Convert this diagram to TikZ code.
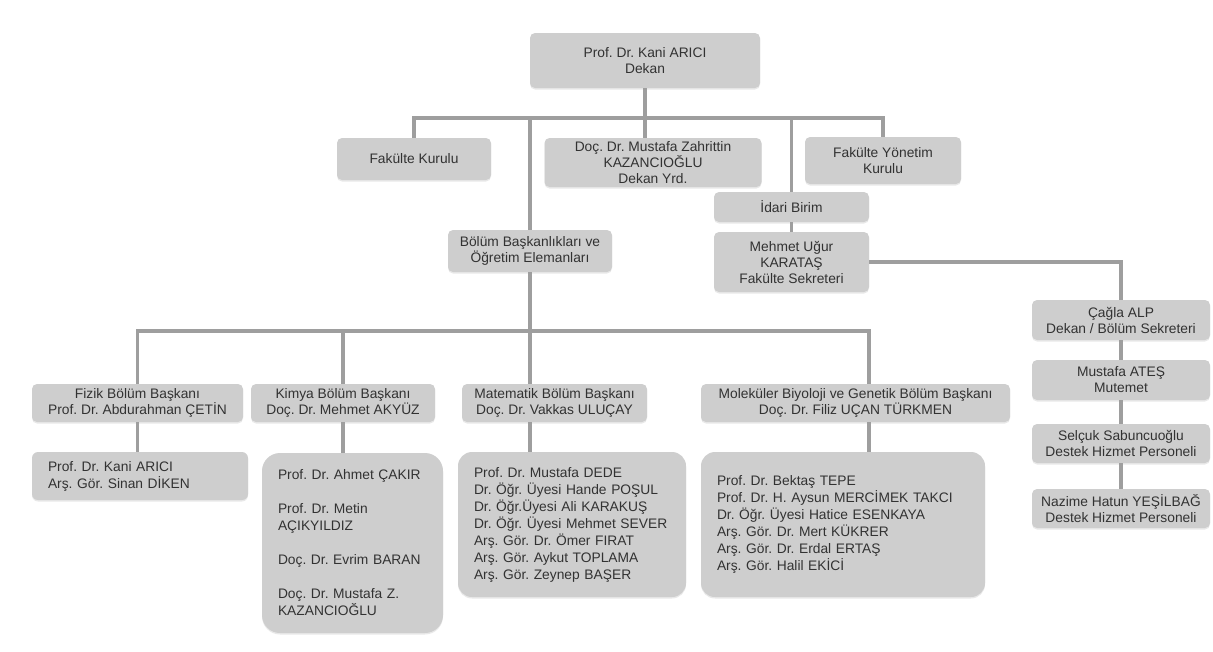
\documentclass[tikz,border=0pt]{standalone}
\usepackage{fontspec}
\setmainfont{Liberation Sans}
\usetikzlibrary{shadows}
\frenchspacing
\definecolor{kutugri}{RGB}{206,206,206}
\definecolor{hatgri}{RGB}{158,158,158}
\definecolor{yazigri}{RGB}{50,50,50}
\begin{document}
\begin{tikzpicture}[x=1pt, y=-1pt,
	kutu/.style={fill=kutugri, rounded corners=5pt, align=center, text=yazigri, inner sep=2pt,
		font=\fontsize{13.8}{16}\selectfont, drop shadow={opacity=0.18, shadow xshift=0pt, shadow yshift=-1.5pt}},
	uye/.style={kutu, rounded corners=16pt, align=left, inner xsep=16pt, inner ysep=0pt,
		font=\fontsize{13.8}{17}\selectfont},
	hat/.style={draw=hatgri, line width=3.5pt}]
	\useasboundingbox (0,0) rectangle (1213,651);

	% Dekanlik
	\node[kutu, minimum width=230pt, minimum height=55pt] (dekan) at (645,60.5) {Prof. Dr. Kani ARICI\\Dekan};
	\node[kutu, minimum width=154pt, minimum height=42pt] (kurul) at (414,159) {Fakülte Kurulu};
	\node[kutu, minimum width=217pt, minimum height=49pt] (yrd) at (653,162.5) {Doç. Dr. Mustafa Zahrittin\\KAZANCIOĞLU\\Dekan Yrd.};
	\node[kutu, minimum width=156pt, minimum height=47pt] (yonetim) at (883,160.5) {Fakülte Yönetim\\Kurulu};

	% Idari birim
	\node[kutu, minimum width=155pt, minimum height=30pt] (idari) at (791.5,207) {İdari Birim};
	\node[kutu, minimum width=155pt, minimum height=60pt] (sekreter) at (791.5,262) {Mehmet Uğur\\KARATAŞ\\Fakülte Sekreteri};
	\node[kutu, minimum width=164pt, minimum height=42pt] (bolum) at (530,251) {Bölüm Başkanlıkları ve\\Öğretim Elemanları};

	% Sag sutun
	\node[kutu, minimum width=178pt, minimum height=40pt] (cagla) at (1121,320) {Çağla ALP\\Dekan / Bölüm Sekreteri};
	\node[kutu, minimum width=178pt, minimum height=40pt] (mutemet) at (1121,380) {Mustafa ATEŞ\\Mutemet};
	\node[kutu, minimum width=178pt, minimum height=39pt] (destek1) at (1121,443.5) {Selçuk Sabuncuoğlu\\Destek Hizmet Personeli};
	\node[kutu, minimum width=178pt, minimum height=39pt] (destek2) at (1121,508.5) {Nazime Hatun YEŞİLBAĞ\\Destek Hizmet Personeli};

	% Bolum baskanlari
	\node[kutu, minimum width=211pt, minimum height=38pt] (fizik) at (137.5,403) {Fizik Bölüm Başkanı\\Prof. Dr. Abdurahman ÇETİN};
	\node[kutu, minimum width=184pt, minimum height=38pt] (kimya) at (343,403) {Kimya Bölüm Başkanı\\Doç. Dr. Mehmet AKYÜZ};
	\node[kutu, minimum width=185pt, minimum height=38pt] (matematik) at (554.5,403) {Matematik Bölüm Başkanı\\Doç. Dr. Vakkas ULUÇAY};
	\node[kutu, minimum width=309pt, minimum height=38pt] (mbg) at (855.5,403) {Moleküler Biyoloji ve Genetik Bölüm Başkanı\\Doç. Dr. Filiz UÇAN TÜRKMEN};

	% Ogretim elemanlari
	\node[uye, rounded corners=6pt, text width=184pt, minimum height=48pt] (fizikuye) at (140,476)
		{Prof. Dr. Kani ARICI\\Arş. Gör. Sinan DİKEN};
	\node[uye, rounded corners=18pt, text width=149pt, minimum height=180pt] (kimyauye) at (352.5,543)
		{Prof. Dr. Ahmet ÇAKIR\\[17pt]Prof. Dr. Metin\\AÇIKYILDIZ\\[17pt]Doç. Dr. Evrim BARAN\\[17pt]Doç. Dr. Mustafa Z.\\KAZANCIOĞLU};
	\node[uye, rounded corners=14pt, text width=196pt, minimum height=145pt] (matuye) at (572,524.5)
		{Prof. Dr. Mustafa DEDE\\Dr. Öğr. Üyesi Hande POŞUL\\Dr. Öğr.Üyesi Ali KARAKUŞ\\Dr. Öğr. Üyesi Mehmet SEVER\\Arş. Gör. Dr. Ömer FIRAT\\Arş. Gör. Aykut TOPLAMA\\Arş. Gör. Zeynep BAŞER};
	\node[uye, rounded corners=14pt, text width=252pt, minimum height=145pt] (mbguye) at (843,524.5)
		{Prof. Dr. Bektaş TEPE\\Prof. Dr. H. Aysun MERCİMEK TAKCI\\Dr. Öğr. Üyesi Hatice ESENKAYA\\Arş. Gör. Dr. Mert KÜKRER\\Arş. Gör. Dr. Erdal ERTAŞ\\Arş. Gör. Halil EKİCİ};

	% Baglantilar
	\coordinate (hat1) at (645,118);
	\coordinate (hat2) at (530,331);
	\draw[hat] (dekan.south) -- (yrd.north -| dekan.south);
	\draw[hat] (kurul.north) |- (yonetim.north |- hat1) -- (yonetim.north);
	\draw[hat] (bolum.north) -- (bolum.north |- hat1);
	\draw[hat] (idari.north) -- (idari.north |- hat1);
	\draw[hat] (idari.south) -- (sekreter.north);
	\draw[hat] (sekreter.east) -| (cagla.north);
	\draw[hat] (cagla.south) -- (mutemet.north);
	\draw[hat] (mutemet.south) -- (destek1.north);
	\draw[hat] (destek1.south) -- (destek2.north);
	\draw[hat] (bolum.south) -- (bolum.south |- matematik.north);
	\draw[hat] (fizik.north) |- (hat2 -| sekreter.east) -- (mbg.north -| sekreter.east);
	\draw[hat] (kimya.north) -- (kimya.north |- hat2);
	\draw[hat] (fizik.south) -- (fizikuye.north -| fizik.south);
	\draw[hat] (kimya.south) -- (kimyauye.north -| kimya.south);
	\draw[hat] (matematik.south -| bolum.south) -- (matuye.north -| bolum.south);
	\draw[hat] (mbg.south -| sekreter.east) -- (mbguye.north -| sekreter.east);
\end{tikzpicture}
\end{document}
